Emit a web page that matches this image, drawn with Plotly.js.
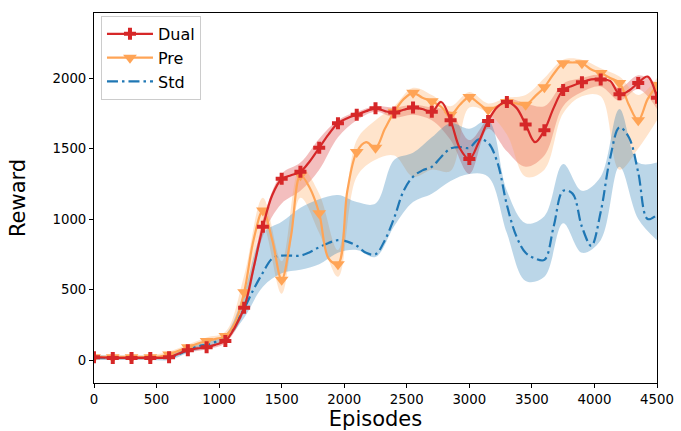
<!DOCTYPE html>
<html>
<head>
<meta charset="utf-8">
<script src="https://cdn.plot.ly/plotly-3.0.1.min.js"></script>
<style>html,body{margin:0;padding:0;background:#fff}#chart{width:681px;height:431px}</style>
</head>
<body>
<div id="chart"></div>
<script>
// Episodes for the mean curves (every 75 episodes)
var episodes = [0,75,150,225,300,375,450,525,600,675,750,825,900,975,1050,1125,1200,1275,1350,1425,1500,1575,1650,1725,1800,1875,1950,2025,2100,2175,2250,2325,2400,2475,2550,2625,2700,2775,2850,2925,3000,3075,3150,3225,3300,3375,3450,3525,3600,3675,3750,3825,3900,3975,4050,4125,4200,4275,4350,4425,4500];
var dualMean = [20,18,15,15,15,15,15,15,20,45,70,82,90,110,135,230,370,650,945,1170,1285,1310,1335,1410,1505,1600,1680,1715,1740,1765,1785,1765,1755,1775,1790,1780,1760,1830,1700,1500,1425,1545,1695,1795,1830,1790,1670,1545,1630,1790,1915,1945,1970,1990,1990,1980,1885,1910,1965,2010,1860];
var preMean = [20,20,20,20,20,20,20,25,40,65,90,115,135,150,170,260,480,850,1060,850,570,880,1310,1220,1040,720,680,1200,1475,1545,1505,1640,1760,1850,1895,1860,1835,1795,1740,1810,1865,1820,1775,1800,1830,1820,1810,1870,1935,2030,2105,2110,2105,2060,2035,2000,1965,1810,1700,1850,1950];
var stdMean = [15,15,15,15,15,15,15,15,18,40,70,95,110,130,160,250,365,500,620,720,740,740,740,765,800,830,850,840,810,760,750,850,1010,1200,1300,1345,1370,1440,1500,1510,1505,1565,1540,1400,1100,880,760,720,710,950,1200,1180,945,810,1050,1430,1650,1580,1330,1000,1030];

// Episodes for the shaded bands (every 150 episodes)
var bandEpisodes = [0,150,300,450,600,750,900,1050,1200,1350,1500,1650,1800,1950,2100,2250,2400,2550,2700,2850,3000,3150,3300,3450,3600,3750,3900,4050,4200,4350,4500];
var dualHi = [30,25,25,25,30,85,105,150,400,1000,1320,1400,1570,1700,1760,1800,1790,1810,1790,1760,1560,1720,1850,1820,1800,1960,2000,2020,1930,2020,1960];
var dualLo = [5,5,5,5,10,55,75,120,340,880,1110,1200,1350,1580,1700,1760,1720,1740,1700,1560,1320,1640,1480,1370,1450,1800,1900,1940,1840,1920,1780];
var preHi = [35,35,35,35,60,110,160,200,600,1150,700,1370,1180,780,1560,1700,1800,1930,1880,1800,1900,1820,1860,1880,2000,2130,2130,2070,2010,1880,2000];
var preLo = [5,5,5,5,20,70,110,140,380,950,470,1150,900,590,1300,1420,1450,1300,1350,1340,1790,1750,1600,1300,1350,1750,1870,1870,1350,1500,1700];
var stdHi = [35,30,30,30,35,90,130,180,480,900,980,1080,1140,1170,1120,1110,1420,1470,1580,1680,1640,1700,1200,970,1020,1390,1200,1300,1780,1400,1400];
var stdLo = [0,0,0,0,0,50,90,140,300,520,615,640,680,760,780,730,950,1120,1180,1270,1320,1300,900,560,590,970,760,850,1370,1000,850];

var seriesNames = ['Dual','Pre','Std'];
var xTicks = [0,500,1000,1500,2000,2500,3000,3500,4000,4500];
var yTicks = [0,500,1000,1500,2000];

var RED = '#d62728', ORANGE = '#ffa456', BLUE = '#1f77b4';
var RED_F = 'rgba(214,39,40,0.3)', ORANGE_F = 'rgba(255,164,86,0.3)', BLUE_F = 'rgba(31,119,180,0.3)';
var DASHDOT = '11px,4px,2.5px,4px';

function every2(arr){ return arr.filter(function(_, i){ return i % 2 === 0; }); }

function band(lo, hi, fillc){
  return [
    {x: bandEpisodes, y: lo, mode:'lines', line:{width:0, shape:'spline', smoothing:1}, showlegend:false, hoverinfo:'skip'},
    {x: bandEpisodes, y: hi, mode:'lines', line:{width:0, shape:'spline', smoothing:1}, fill:'tonexty', fillcolor: fillc, showlegend:false, hoverinfo:'skip'}
  ];
}

var traces = [];
traces = traces.concat(band(dualLo, dualHi, RED_F));
traces = traces.concat(band(preLo, preHi, ORANGE_F));
traces = traces.concat(band(stdLo, stdHi, BLUE_F));

// mean lines
traces.push({x: episodes, y: stdMean, mode:'lines', line:{color:BLUE, width:2.2, dash:DASHDOT, shape:'spline', smoothing:1}, showlegend:false});
traces.push({x: episodes, y: preMean, mode:'lines', line:{color:ORANGE, width:2.2, shape:'spline', smoothing:1}, showlegend:false});
traces.push({x: every2(episodes), y: every2(preMean), mode:'markers', marker:{symbol:'triangle-down', size:12, color:ORANGE}, showlegend:false});
traces.push({x: episodes, y: dualMean, mode:'lines', line:{color:RED, width:2.2, shape:'spline', smoothing:1}, showlegend:false});
traces.push({x: every2(episodes), y: every2(dualMean), mode:'markers', marker:{symbol:'cross', size:10, color:RED}, showlegend:false});

// legend entries
traces.push({x:[null], y:[null], name: seriesNames[0], mode:'lines+markers', line:{color:RED, width:2.2}, marker:{symbol:'cross', size:10, color:RED}});
traces.push({x:[null], y:[null], name: seriesNames[1], mode:'lines+markers', line:{color:ORANGE, width:2.2}, marker:{symbol:'triangle-down', size:12, color:ORANGE}});
traces.push({x:[null], y:[null], name: seriesNames[2], mode:'lines', line:{color:BLUE, width:2.2, dash:DASHDOT}});

var layout = {
  width: 681, height: 431,
  margin: {l:94, r:24, t:13, b:48, pad:0},
  paper_bgcolor:'#fff', plot_bgcolor:'#fff',
  font: {family:'DejaVu Sans', color:'#000', size:13.3},
  showlegend: true,
  legend: {x:0.0124, y:0.992, xanchor:'left', yanchor:'top', traceorder:'normal', itemwidth:46, bgcolor:'rgba(255,255,255,0.8)', bordercolor:'#cccccc', borderwidth:1, font:{size:16, family:'DejaVu Sans'}},
  xaxis: {range:[0,4500], tickvals:xTicks, ticktext:xTicks.map(String), showline:true, mirror:true, linecolor:'#000', linewidth:1, ticks:'outside', ticklen:4, tickcolor:'#000', showgrid:false, zeroline:false,
          tickfont:{size:13.3}, title:{text:'Episodes', font:{size:21}, standoff:4}},
  yaxis: {range:[-163,2461], tickvals:yTicks, ticktext:yTicks.map(String), showline:true, mirror:true, linecolor:'#000', linewidth:1, ticks:'outside', ticklen:4, tickcolor:'#000', showgrid:false, zeroline:false,
          tickfont:{size:13.3}, title:{text:'Reward', font:{size:21}, standoff:21}}
};

Plotly.newPlot('chart', traces, layout, {displayModeBar:false, staticPlot:true});
</script>
</body>
</html>
